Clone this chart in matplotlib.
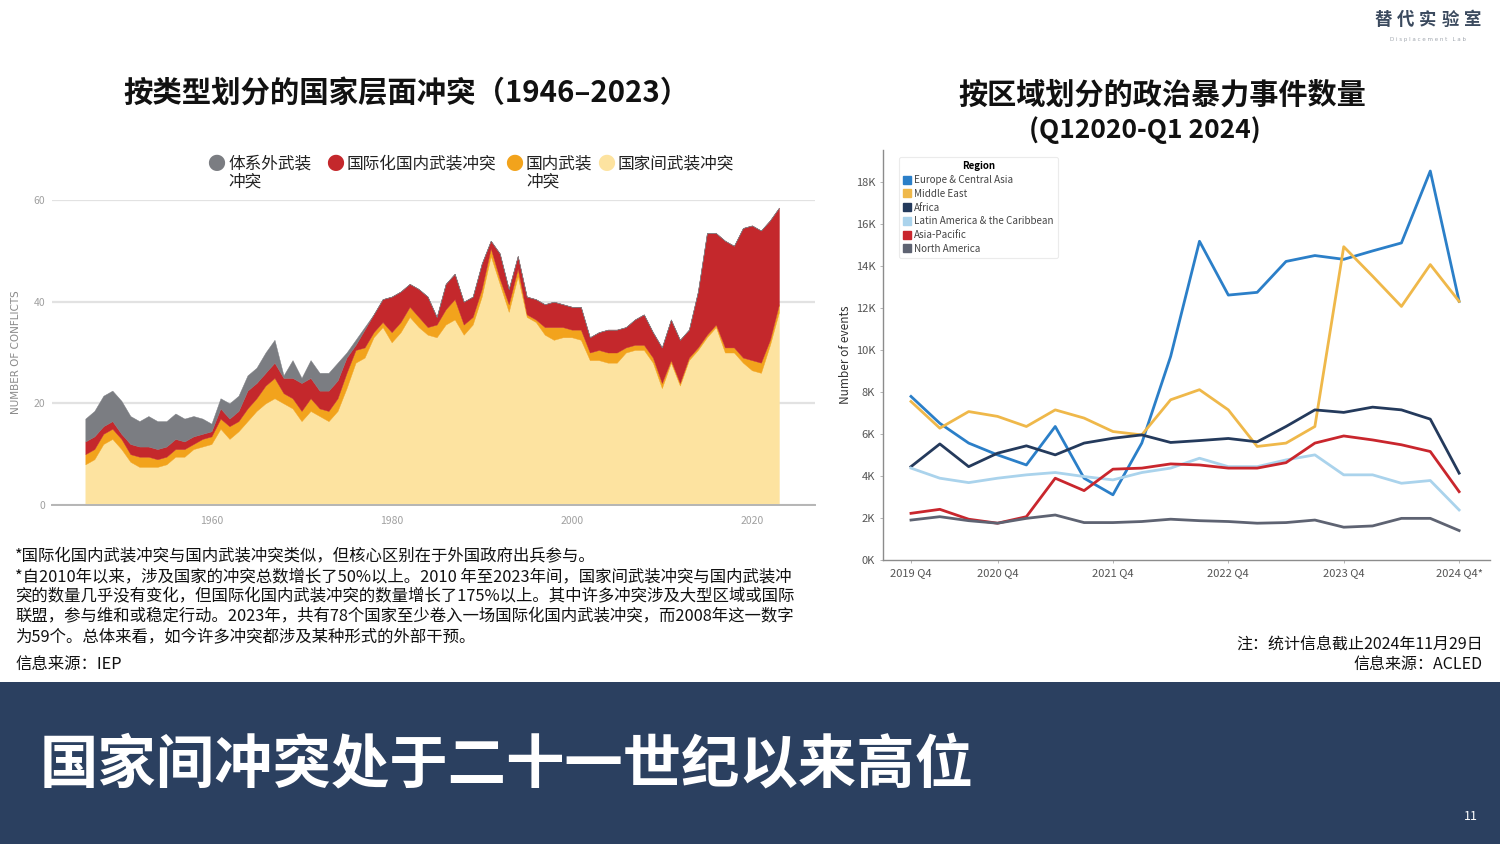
import matplotlib
matplotlib.use("Agg")
import matplotlib.pyplot as plt
from matplotlib.lines import Line2D
from matplotlib.patches import Rectangle

CJK = ["Noto Sans CJK SC", "DejaVu Sans"]
plt.rcParams["font.family"] = CJK

# ---- left chart: state-based conflicts by type, 1946-2023 (stacked) ----
years = list(range(1946, 2024))
interstate = [  # 国家间武装冲突 (bottom, pale)
    8, 9, 12, 13, 11, 8.5, 7.5, 7.5, 7.5, 8,
    9.5, 9.5, 11, 11.5, 12, 15, 13, 14.5, 16.5, 18.5,
    20, 21, 20, 19, 16.5, 18.5, 17.5, 16.5, 18.5, 23,
    28, 29, 33, 35, 32, 34, 37, 35, 33.5, 33,
    35.5, 36.5, 33.5, 35.5, 41, 49, 43.5, 38, 45, 37,
    36, 33.5, 32.5, 33, 33, 32.5, 28.5, 28.5, 28, 28,
    30, 30.5, 30.5, 28, 23, 28, 23.5, 28.5, 30.5, 33,
    35, 30, 30, 28, 26.5, 26, 31.5, 38,
]
intrastate = [  # 国内武装冲突 (orange)
    2, 2, 2, 2, 2, 1.5, 2, 2, 1.5, 1.5,
    1.5, 1.5, 1, 1.5, 1.5, 2, 2.5, 2, 2.5, 2.5,
    3.5, 4, 2, 2, 2, 2.5, 1.5, 2, 2.5, 3,
    2.5, 2, 1, 1, 2, 2, 2, 2, 1.5, 2.5,
    3, 4, 2, 1.5, 1.5, 1.5, 1, 1.5, 1.5, 0.5,
    0.5, 1.5, 2.5, 2, 1.5, 2, 1.5, 2, 2, 2,
    1, 1, 1, 1, 1, 0.5, 0.5, 0.5, 0.5, 0.5,
    0.5, 1, 1, 1, 2, 2, 1, 1.5,
]
internationalised = [  # 国际化国内武装冲突 (red)
    2.5, 2.5, 1.5, 1.5, 1, 2, 2, 2, 2, 2,
    2, 1.5, 1.5, 1, 1, 2, 1.5, 2, 3.5, 3,
    2.5, 3, 3, 4, 5.5, 4, 3.5, 4, 3.5, 3,
    1, 3.5, 3.5, 4.5, 7, 6, 4.5, 5.5, 6, 1.5,
    5, 5, 4.5, 4, 5, 1.5, 5, 3, 2.5, 3.5,
    4, 4.5, 5, 4.5, 4.5, 4.5, 3, 3.5, 4.5, 4.5,
    4, 5, 6, 5, 7, 8, 8.5, 5.5, 11, 20,
    18, 21, 20, 25.5, 26.5, 26, 23.5, 19,
]
extrasystemic = [  # 体系外武装冲突 (grey, top)
    4.5, 5, 6, 6, 6.5, 5.5, 5, 6, 5.5, 5,
    5, 4.5, 4, 3, 1.5, 2, 3, 3, 3, 3,
    4, 4.5, 0.5, 3.5, 1, 3.5, 3.5, 3.5, 3.5, 1,
    1, 0.5, 0, 0, 0, 0, 0, 0, 0, 0,
] + [0] * 38

type_labels = ["体系外武装\n冲突", "国际化国内武装冲突", "国内武装\n冲突", "国家间武装冲突"]
type_colors = ["#7b7d82", "#c4282c", "#f2a31c", "#fde3a0"]

# ---- right chart: political violence events by region (quarterly) ----
quarters = list(range(20))
q_tick_pos = [0, 3, 7, 11, 15, 19]
q_tick_labels = ["2019 Q4", "2020 Q4", "2021 Q4", "2022 Q4", "2023 Q4", "2024 Q4*"]

europe_central_asia = [7780, 6500, 5560, 5000, 4520, 6350, 3890, 3100, 5560, 9680,
                       15160, 12600, 12730, 14200, 14480, 14300, 14700, 15080, 18500, 12300]
middle_east = [7540, 6270, 7060, 6830, 6350, 7140, 6750, 6110, 5950, 7620,
               8100, 7140, 5400, 5560, 6350, 14900, 13500, 12060, 14050, 12300]
africa = [4440, 5520, 4440, 5080, 5430, 5000, 5560, 5790, 5950, 5590,
          5680, 5780, 5620, 6350, 7140, 7020, 7270, 7140, 6700, 4130]
latin_america = [4370, 3890, 3680, 3890, 4050, 4160, 3970, 3810, 4160, 4370,
                 4840, 4440, 4440, 4760, 5000, 4050, 4050, 3650, 3780, 2380]
asia_pacific = [2220, 2410, 1940, 1750, 2060, 3890, 3300, 4320, 4370, 4570,
                4520, 4370, 4370, 4630, 5560, 5900, 5710, 5480, 5160, 3250]
north_america = [1900, 2060, 1870, 1750, 1980, 2140, 1780, 1780, 1830, 1940,
                 1870, 1830, 1750, 1780, 1900, 1560, 1620, 1980, 1980, 1400]

regions = ["Europe & Central Asia", "Middle East", "Africa",
           "Latin America & the Caribbean", "Asia-Pacific", "North America"]
region_series = [europe_central_asia, middle_east, africa,
                 latin_america, asia_pacific, north_america]
region_colors = ["#2b7fc8", "#efb84a", "#243a5c", "#aad3ec", "#c9262d", "#5e6372"]

W, H = 1500, 844
fig = plt.figure(figsize=(15, 8.44), dpi=100)


def fx(x):
    return x / W


def fy(y):
    return 1 - y / H


# ---------------- left chart ----------------
ax1 = fig.add_axes([fx(52), fy(505), fx(815) - fx(52), fy(200) - fy(505)])
ax1.stackplot(years, interstate, intrastate, internationalised, extrasystemic,
              colors=type_colors[::-1], linewidth=0.3, edgecolor="face")
ax1.set_xlim(1942.3, 2027)
ax1.set_ylim(0, 60)
ax1.set_yticks([0, 20, 40, 60])
ax1.set_xticks([1960, 1980, 2000, 2020])
ax1.grid(axis="y", color="#e2e2e2", linewidth=1.6, zorder=0)
ax1.set_axisbelow(True)
for s in ["top", "right", "left"]:
    ax1.spines[s].set_visible(False)
ax1.spines["bottom"].set_color("#b5b5b5")
ax1.spines["bottom"].set_linewidth(1.4)
ax1.tick_params(length=0, labelsize=7.5, labelcolor="#a0a0a0", pad=8)
ax1.tick_params(axis="y", pad=5)
ax1.set_ylabel("NUMBER OF CONFLICTS", fontsize=7.5, color="#8a8a8a", labelpad=9,
               family=["DejaVu Sans"])

# legend above the left chart
leg_x = [216, 335, 514, 606]
for x, lab, col in zip(leg_x, type_labels, type_colors):
    fig.text(fx(x), fy(165), "●", color=col, fontsize=13, ha="center", va="center")
    fig.text(fx(x + 12), fy(155), lab, fontsize=12, color="#222222", ha="left", va="top",
             linespacing=1.15)

fig.text(fx(406), fy(94), "按类型划分的国家层面冲突（1946–2023）", fontsize=21.2,
         weight="bold", ha="center", va="center", color="#111111")

# ---------------- right chart ----------------
ax2 = fig.add_axes([fx(883), fy(560), fx(1490) - fx(883), fy(150) - fy(560)])
for name, vals, col in zip(regions, region_series, region_colors):
    ax2.plot(quarters, vals, color=col, linewidth=2, label=name)
ax2.set_xlim(-0.97, 20.07)
ax2.set_ylim(0, 19500)
ax2.set_yticks(range(0, 18001, 2000))
ax2.set_yticklabels([f"{v // 1000}K" for v in range(0, 18001, 2000)])
ax2.set_xticks(q_tick_pos)
ax2.set_xticklabels(q_tick_labels)
for s in ["top", "right"]:
    ax2.spines[s].set_visible(False)
for s in ["left", "bottom"]:
    ax2.spines[s].set_color("#8c8c8c")
    ax2.spines[s].set_linewidth(1.0)
ax2.tick_params(length=2, width=0.6, color="#aaaaaa", labelsize=8, labelcolor="#555555")
ax2.set_ylabel("Number of events", fontsize=8.5, color="#333333", labelpad=3)
handles = [Line2D([], [], marker="s", linestyle="none", markersize=6, color=c)
           for c in region_colors]
leg = ax2.legend(handles, regions, loc="upper left", bbox_to_anchor=(0.018, 0.995),
                 fontsize=7.1, title="Region", title_fontsize=7, frameon=True,
                 labelspacing=0.38, handletextpad=0.3, borderpad=0.45,
                 handlelength=0.8, alignment="center")
leg.get_title().set_fontweight("bold")
leg.get_frame().set_edgecolor("#e6e6e6")
leg.get_frame().set_linewidth(0.8)
for t in leg.get_texts():
    t.set_color("#444444")

fig.text(fx(1162), fy(95), "按区域划分的政治暴力事件数量", fontsize=21, weight="bold",
         ha="center", va="center", color="#111111")
fig.text(fx(1145), fy(130), "(Q12020-Q1 2024)", fontsize=19, weight="bold",
         ha="center", va="center", color="#111111")

# ---------------- notes ----------------
notes = [
    "*国际化国内武装冲突与国内武装冲突类似，但核心区别在于外国政府出兵参与。",
    "*自2010年以来，涉及国家的冲突总数增长了50%以上。2010 年至2023年间，国家间武装冲突与国内武装冲",
    "突的数量几乎没有变化，但国际化国内武装冲突的数量增长了175%以上。其中许多冲突涉及大型区域或国际",
    "联盟，参与维和或稳定行动。2023年，共有78个国家至少卷入一场国际化国内武装冲突，而2008年这一数字",
    "为59个。总体来看，如今许多冲突都涉及某种形式的外部干预。",
]
for i, line in enumerate(notes):
    fig.text(fx(15), fy(557 + 20 * i), line, fontsize=11.8, ha="left", va="center",
             color="#111111")
fig.text(fx(15), fy(664), "信息来源：IEP", fontsize=11.8, ha="left", va="center",
         color="#111111")
fig.text(fx(1483), fy(644), "注：统计信息截止2024年11月29日", fontsize=11.5, ha="right",
         va="center", color="#111111")
fig.text(fx(1483), fy(664), "信息来源：ACLED", fontsize=11.5, ha="right", va="center",
         color="#111111")

# ---------------- logo ----------------
for i, ch in enumerate("替代实验室"):
    fig.text(fx(1383 + i * 22.5), fy(20), ch, fontsize=12.5, ha="center", va="center",
             color="#3b4a5e", weight="bold")
fig.text(fx(1428), fy(40), "D i s p l a c e m e n t   L a b", fontsize=4, ha="center",
         va="center", color="#a0a6ae", family=["DejaVu Sans"])

# ---------------- bottom banner ----------------
fig.add_artist(Rectangle((0, 0), 1, fy(682), transform=fig.transFigure,
                         facecolor="#2b4060", edgecolor="none", zorder=0))
fig.text(fx(40), fy(765), "国家间冲突处于二十一世纪以来高位", fontsize=42, weight="bold",
         color="white", ha="left", va="center")
fig.text(fx(1471), fy(817), "11", fontsize=9, color="white", ha="center", va="center")

fig.savefig("out.png", dpi=100)
